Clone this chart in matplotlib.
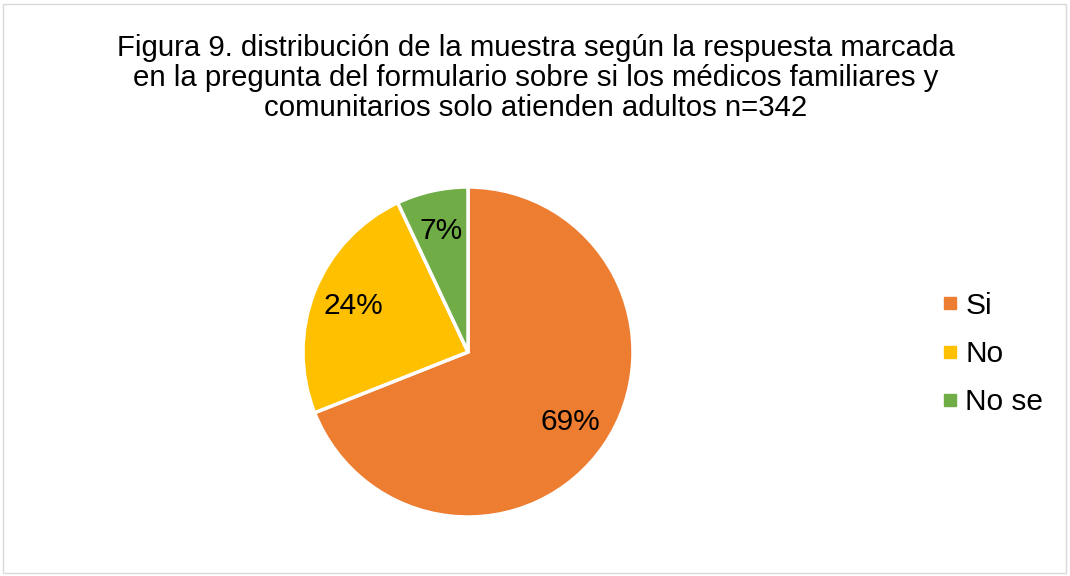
import matplotlib.pyplot as plt
from matplotlib.lines import Line2D
from matplotlib.patches import Rectangle

plt.rcParams['font.family'] = ['Liberation Sans', 'DejaVu Sans']

labels = ['Si', 'No', 'No se']
values = [69, 24, 7]
colors = ['#ED7D31', '#FFC000', '#70AD47']
title = ('Figura 9. distribución de la muestra según la respuesta marcada\n'
         'en la pregunta del formulario sobre si los médicos familiares y\n'
         'comunitarios solo atienden adultos n=342')

W, H = 1070, 576
fig = plt.figure(figsize=(W / 100, H / 100), dpi=100)

# outer chart border
fig.patches.append(Rectangle((3 / W, 3 / H), 1063 / W, 569 / H, transform=fig.transFigure,
                             fill=False, edgecolor='#D9D9D9', linewidth=1))

cx, cy, r = 468, 352, 165
ax = fig.add_axes([(cx - r) / W, (H - cy - r) / H, 2 * r / W, 2 * r / H])
wedges, texts, autotexts = ax.pie(values, colors=colors, startangle=90, counterclock=False,
                                  autopct='%1.0f%%', pctdistance=0.75, radius=1,
                                  wedgeprops=dict(edgecolor='white', linewidth=2.5),
                                  textprops=dict(fontsize=21.5, color='black'))
ax.set_xlim(-1, 1)
ax.set_ylim(-1, 1)
ax.set_aspect('equal')

fig.text(536 / W, 1 - 78 / H, title, ha='center', va='center', fontsize=21.2,
         linespacing=1.07, color='black')

handles = [Line2D([], [], marker='s', linestyle='none', markersize=8,
                  markerfacecolor=c, markeredgecolor=c) for c in colors]
fig.legend(handles, labels, loc='center left', bbox_to_anchor=(910 / W, 1 - 354 / H),
           frameon=False, fontsize=21.5, handletextpad=0.05, labelspacing=0.68,
           handlelength=0.9)

fig.savefig('out.png', dpi=100)
